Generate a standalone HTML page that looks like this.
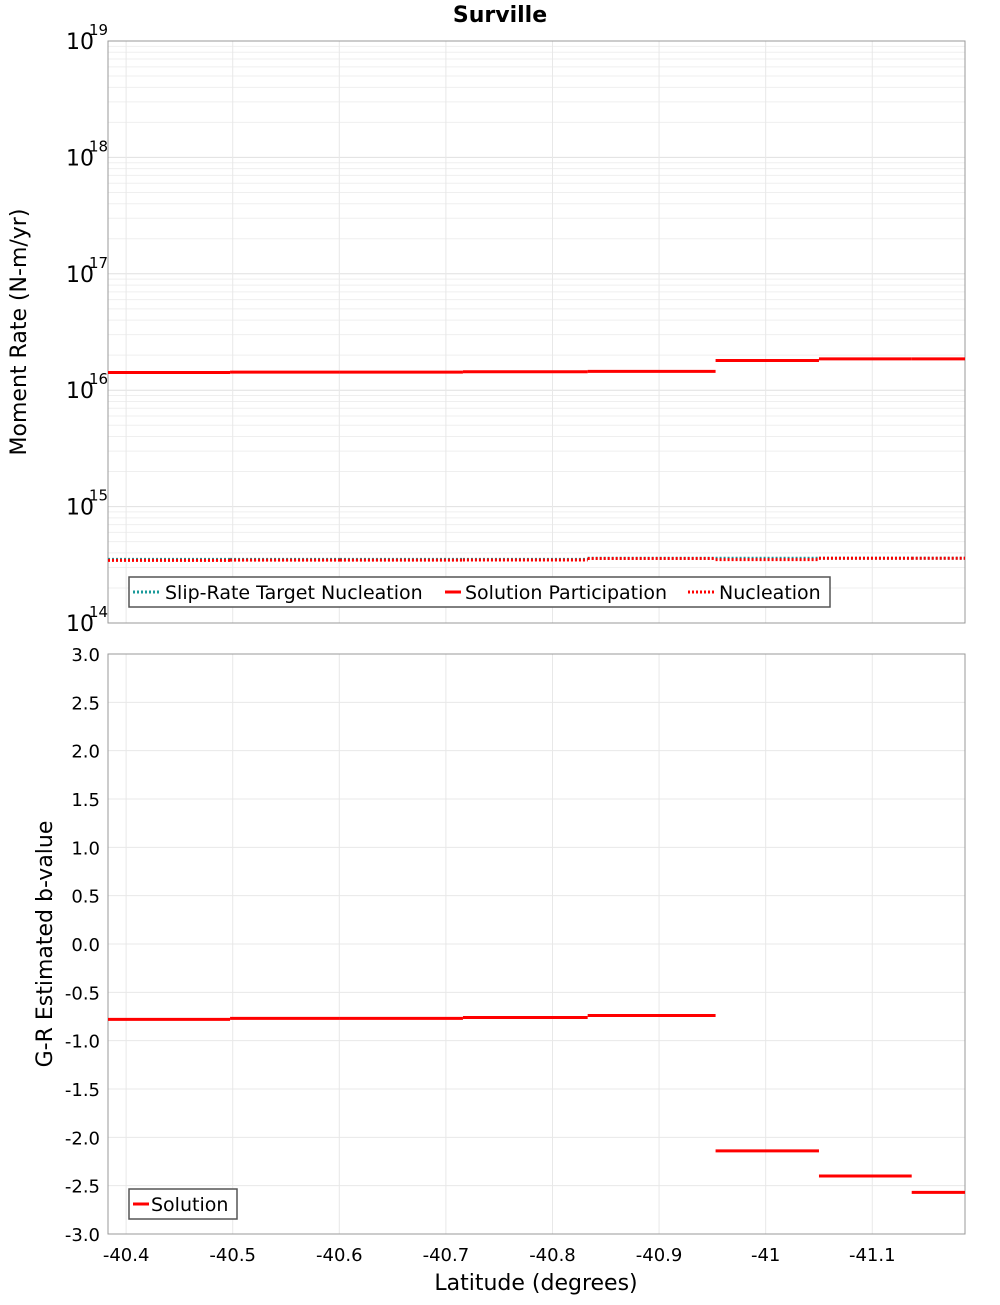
<!DOCTYPE html>
<html><head><meta charset="utf-8"><style>
body{margin:0;background:#fff;font-family:"Liberation Sans","DejaVu Sans",sans-serif}
svg text{font-family:"DejaVu Sans","Liberation Sans",sans-serif}
</style></head><body>
<svg id="c" width="1000" height="1300" xmlns="http://www.w3.org/2000/svg"></svg>
<script>
const bounds=[-40.383,-40.4975,-40.6006,-40.716,-40.833,-40.953,-41.05,-41.137,-41.187];
const participation=[1.42e16,1.43e16,1.43e16,1.44e16,1.45e16,1.80e16,1.86e16,1.86e16];
const targetNuc=[3.52e14,3.52e14,3.52e14,3.52e14,3.6e14,3.6e14,3.6e14,3.6e14];
const nucleation=[3.45e14,3.47e14,3.47e14,3.48e14,3.58e14,3.5e14,3.6e14,3.6e14];
const bValues=[-0.78,-0.77,-0.77,-0.76,-0.74,-2.14,-2.40,-2.57];
const xTicks=[-40.4,-40.5,-40.6,-40.7,-40.8,-40.9,-41,-41.1];
const xTickLabels=["-40.4","-40.5","-40.6","-40.7","-40.8","-40.9","-41","-41.1"];
const yTicks2=[3,2.5,2,1.5,1,0.5,0,-0.5,-1,-1.5,-2,-2.5,-3];
const decades=[14,15,16,17,18,19];

const NS="http://www.w3.org/2000/svg",svg=document.getElementById('c');
function el(t,a,p,txt){const e=document.createElementNS(NS,t);for(const k in a)e.setAttribute(k,a[k]);if(txt!=null)e.textContent=txt;(p||svg).appendChild(e);return e;}
const L=108,R=965,T1=41,B1=623,T2=654,B2=1234;
const xs=v=>L+(v-bounds[0])/(bounds[8]-bounds[0])*(R-L);
const y1=v=>B1-(Math.log10(v)-14)/5*(B1-T1);
const y2=v=>B2-(v+3)/6*(B2-T2);

// grids
const g1=el('g',{});  
for(let d=14;d<19;d++)for(let m=1;m<10;m++){const y=y1(m*Math.pow(10,d));el('line',{x1:L,x2:R,y1:y,y2:y,stroke:m==1?'#e0e0e0':'#efefef','stroke-width':1},g1);}
const g2=el('g',{});  
yTicks2.forEach(v=>{const y=y2(v);el('line',{x1:L,x2:R,y1:y,y2:y,stroke:'#e8e8e8'},g2);});
xTicks.forEach(v=>{const x=xs(v);el('line',{x1:x,x2:x,y1:T1,y2:B1,stroke:'#e8e8e8'},g1);el('line',{x1:x,x2:x,y1:T2,y2:B2,stroke:'#e8e8e8'},g2);});
const f1=el('rect',{x:L,y:T1,width:R-L,height:B1-T1,fill:'none',stroke:'#999'});

const f2=el('rect',{x:L,y:T2,width:R-L,height:B2-T2,fill:'none',stroke:'#999'});


// top ticks
decades.forEach(d=>{const y=y1(Math.pow(10,d));
const t=el('text',{x:66,y:y+8,'font-size':22},null,'10');
el('text',{x:89,y:y-6,'font-size':15},null,String(d));});
yTicks2.forEach(v=>{const t=el('text',{x:100,y:y2(v)+7,'font-size':18,'text-anchor':'end'},null,v.toFixed(1));});
xTicks.forEach((v,i)=>{const t=el('text',{x:xs(v),y:1261,'font-size':18,'text-anchor':'middle'},null,xTickLabels[i]);});

// series
function steps(arr,ys,col,dash,name,w){const g=el('g',{});
arr.forEach((v,i)=>{const a={x1:xs(bounds[i]),x2:xs(bounds[i+1]),y1:ys(v),y2:ys(v),stroke:col,'stroke-width':w};if(dash)a['stroke-dasharray']=dash;el('line',a,g);});}
steps(targetNuc,y1,'#1a9a9a','2,2','slip-rate-target-nucleation-line',3);
steps(nucleation,y1,'#ff0000','2,2','nucleation-line',3);
steps(participation,y1,'#ff0000',null,'solution-participation-line',3);
steps(bValues,y2,'#ff0000',null,'b-value-line',3);

// legends
const lg=el('g',{});
el('rect',{x:129,y:577,width:701,height:30,fill:'#fff',stroke:'#555','stroke-width':1.5},lg);
el('line',{x1:133,x2:161,y1:592,y2:592,stroke:'#1a9a9a','stroke-width':3,'stroke-dasharray':'2,2'},lg);
el('text',{x:165,y:599,'font-size':19},lg,'Slip-Rate Target Nucleation');
el('line',{x1:445,x2:461,y1:592,y2:592,stroke:'#f00','stroke-width':3},lg);
el('text',{x:465,y:599,'font-size':19},lg,'Solution Participation');
el('line',{x1:688,x2:716,y1:592,y2:592,stroke:'#f00','stroke-width':3,'stroke-dasharray':'2,2'},lg);
el('text',{x:719,y:599,'font-size':19},lg,'Nucleation');
const lg2=el('g',{});
el('rect',{x:129,y:1189,width:108,height:30,fill:'#fff',stroke:'#555','stroke-width':1.5},lg2);
el('line',{x1:133,x2:149,y1:1204,y2:1204,stroke:'#f00','stroke-width':3},lg2);
el('text',{x:151,y:1211,'font-size':19},lg2,'Solution');

// titles
let t=el('text',{x:500,y:22,'font-size':22,'font-weight':'bold','text-anchor':'middle'},null,'Surville');
t=el('text',{x:0,y:0,'font-size':22,'text-anchor':'middle',transform:'translate(26,332) rotate(-90)'},null,'Moment Rate (N-m/yr)');
t=el('text',{x:0,y:0,'font-size':22,'text-anchor':'middle',transform:'translate(52,944) rotate(-90)'},null,'G-R Estimated b-value');
t=el('text',{x:536,y:1290,'font-size':22,'text-anchor':'middle'},null,'Latitude (degrees)');
</script>
</body></html>
